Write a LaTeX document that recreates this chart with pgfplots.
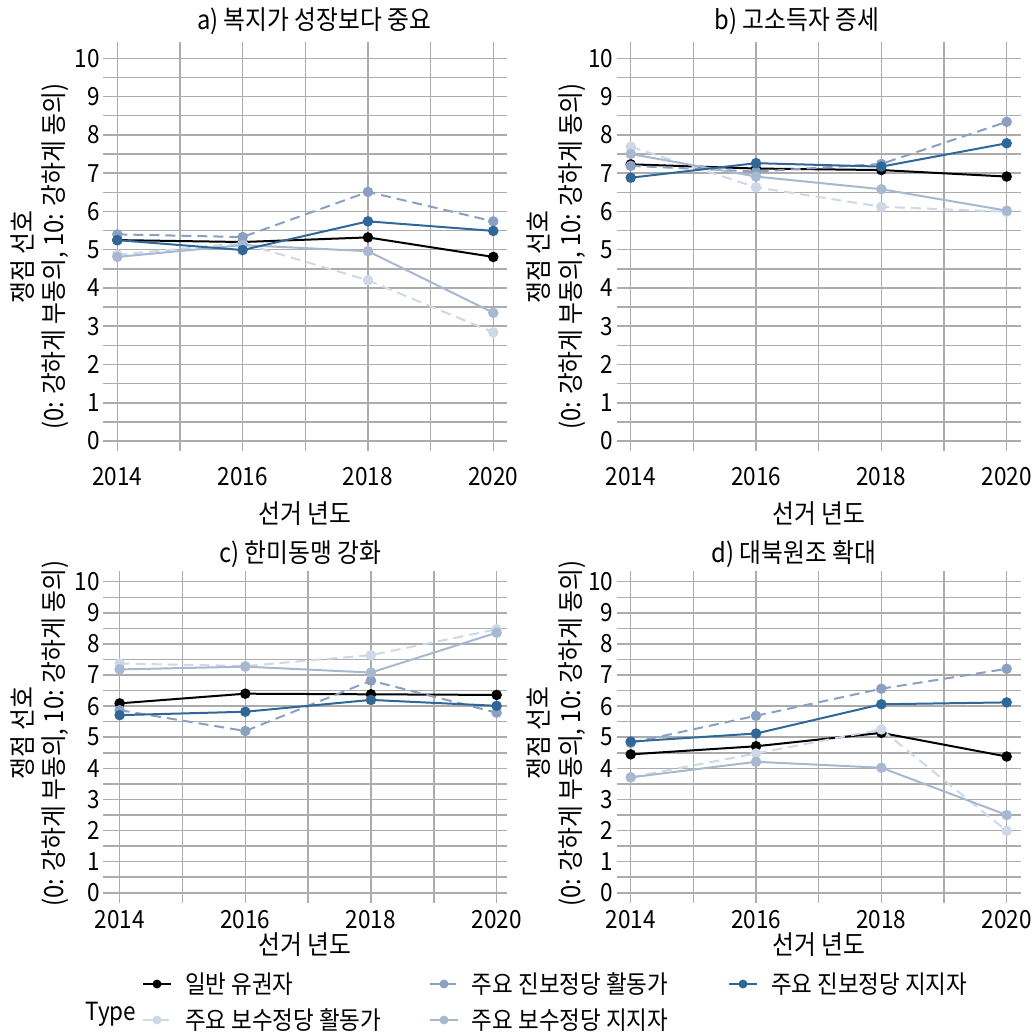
\documentclass[border=0pt]{standalone}
\usepackage{fontspec}
\setmainfont{Noto Sans CJK KR}[FakeStretch=0.9]
\usepackage{pgfplots}
\pgfplotsset{compat=1.18}

\definecolor{cgen}{RGB}{0,0,0}
\definecolor{cpsup}{RGB}{47,104,152}
\definecolor{cpact}{RGB}{139,160,192}
\definecolor{ccsup}{RGB}{168,184,208}
\definecolor{ccact}{RGB}{205,216,232}
\definecolor{gridc}{RGB}{172,172,172}
\newcommand\fsz{\fontsize{12.5}{15}\selectfont}
\newcommand\fszl{\fontsize{13.2}{15.6}\selectfont}

\pgfplotsset{
 sbase/.style={line width=1pt, mark=*, mark size=2.1pt, mark options={solid}},
 sgen/.style={sbase, color=cgen, solid},
 scact/.style={sbase, color=ccact, dash pattern=on 5pt off 3pt},
 spact/.style={sbase, color=cpact, dash pattern=on 5pt off 3pt},
 scsup/.style={sbase, color=ccsup, solid},
 spsup/.style={sbase, color=cpsup, solid},
 panel/.style={
  scale only axis, width=202pt,
  xmin=2013.776, xmax=2020.224,
  xtick={2014,2016,2018,2020}, xticklabels={2014,2016,2018,2020},
  minor xtick={2015,2017,2019},
  ytick={0,1,2,3,4,5,6,7,8,9,10},
  minor ytick={0.5,1.5,2.5,3.5,4.5,5.5,6.5,7.5,8.5,9.5},
  grid=both,
  major grid style={draw=gridc, line width=0.75pt},
  minor grid style={draw=gridc, line width=0.75pt},
  axis line style={draw=none},
  major tick length=0pt, minor tick length=0pt,
  /pgf/number format/assume math mode=true,
  tick label style={font=\fsz, inner sep=0pt},
  xticklabel style={anchor=north},
  yticklabel style={anchor=east, xshift=-1.6pt},
  title style={font=\fszl, anchor=base, inner sep=0pt},
  xlabel={선거 년도},
  xlabel style={font=\fszl, at={(axis description cs:0.5,0)}, anchor=base, inner sep=0pt},
  ylabel={쟁점 선호\\(0: 강하게 부동의, 10: 강하게 동의)},
  ylabel style={font=\fszl, align=center, anchor=center, inner sep=0pt},
 },
 toppanel/.style={panel, height=204.5pt, ymin=-0.253, ymax=10.434,
  xticklabel style={yshift=-8pt}, xlabel style={yshift=-36.6pt}},
 botpanel/.style={panel, height=166pt, ymin=-0.32, ymax=10.354,
  xticklabel style={yshift=-3.7pt}, xlabel style={yshift=-26pt}},
}

\begin{document}
\begin{tikzpicture}
\useasboundingbox (0,0) rectangle (516.5pt,-516.5pt);

% a)
\begin{axis}[toppanel, at={(51.65pt,-225.35pt)}, anchor=south west,
  title={a) 복지가 성장보다 중요},
  title style={at={(axis description cs:0.522,1)}, yshift=0pt},
  ylabel style={at={(axis description cs:-0.158,0.474)}}]
\addplot[sgen]  coordinates {(2014,5.25) (2016,5.20) (2018,5.32) (2020,4.81)};
\addplot[scact] coordinates {(2014,4.87) (2016,5.17) (2018,4.20) (2020,2.84)};
\addplot[spact] coordinates {(2014,5.40) (2016,5.33) (2018,6.51) (2020,5.74)};
\addplot[scsup] coordinates {(2014,4.81) (2016,5.12) (2018,4.96) (2020,3.35)};
\addplot[spsup] coordinates {(2014,5.25) (2016,4.99) (2018,5.74) (2020,5.49)};
\end{axis}

% b)
\begin{axis}[toppanel, at={(308.35pt,-225.35pt)}, anchor=south west,
  title={b) 고소득자 증세},
  title style={at={(axis description cs:0.446,1)}, yshift=0pt},
  ylabel style={at={(axis description cs:-0.150,0.474)}}]
\addplot[sgen]  coordinates {(2014,7.23) (2016,7.12) (2018,7.08) (2020,6.91)};
\addplot[scact] coordinates {(2014,7.69) (2016,6.63) (2018,6.12) (2020,5.99)};
\addplot[spact] coordinates {(2014,7.19) (2016,7.04) (2018,7.24) (2020,8.34)};
\addplot[scsup] coordinates {(2014,7.50) (2016,6.91) (2018,6.58) (2020,6.02)};
\addplot[spsup] coordinates {(2014,6.88) (2016,7.26) (2018,7.17) (2020,7.78)};
\end{axis}

% c)
\begin{axis}[botpanel, at={(51.65pt,-451.35pt)}, anchor=south west,
  xmin=2013.74, xmax=2020.17,
  title={c) 한미동맹 강화},
  title style={at={(axis description cs:0.487,1)}, yshift=-1.7pt},
  ylabel style={at={(axis description cs:-0.158,0.51)}},
  legend columns=3,
  legend image code/.code={\draw[mark repeat=2,mark phase=2,mark size=1.7pt] plot coordinates {(0pt,0pt) (7pt,0pt) (14pt,0pt)};},
  legend style={draw=none, fill=none, inner sep=0pt, outer sep=0pt,
    at={(axis description cs:0.0958,-0.2057)}, anchor=north west,
    column sep=0pt, row sep=5pt,
    nodes={inner sep=0pt, text height=11pt, text depth=2pt, font=\fsz},
    cells={anchor=west},
    /tikz/every odd column/.append style={column sep=6.5pt}}]
\addplot[sgen, forget plot]  coordinates {(2014,6.09) (2016,6.40) (2018,6.38) (2020,6.36)};
\addplot[scact, forget plot] coordinates {(2014,7.37) (2016,7.29) (2018,7.64) (2020,8.47)};
\addplot[spact, forget plot] coordinates {(2014,5.87) (2016,5.20) (2018,6.82) (2020,5.79)};
\addplot[scsup, forget plot] coordinates {(2014,7.18) (2016,7.27) (2018,7.08) (2020,8.36)};
\addplot[spsup, forget plot] coordinates {(2014,5.71) (2016,5.82) (2018,6.20) (2020,6.01)};
\addlegendimage{sgen}
\addlegendentry{\makebox[122pt][l]{일반 유권자}}
\addlegendimage{spact}
\addlegendentry{\makebox[128pt][l]{주요 진보정당 활동가}}
\addlegendimage{spsup}
\addlegendentry{주요 진보정당 지지자}
\addlegendimage{scact}
\addlegendentry{\makebox[122pt][l]{주요 보수정당 활동가}}
\addlegendimage{scsup}
\addlegendentry{\makebox[128pt][l]{주요 보수정당 지지자}}
\end{axis}

% d)
\begin{axis}[botpanel, at={(308.35pt,-451.35pt)}, anchor=south west,
  title={d) 대북원조 확대},
  title style={at={(axis description cs:0.439,1)}, yshift=-1.7pt},
  ylabel style={at={(axis description cs:-0.150,0.51)}}]
\addplot[sgen]  coordinates {(2014,4.45) (2016,4.71) (2018,5.14) (2020,4.38)};
\addplot[scact] coordinates {(2014,3.71) (2016,4.48) (2018,5.25) (2020,1.99)};
\addplot[spact] coordinates {(2014,4.82) (2016,5.69) (2018,6.56) (2020,7.20)};
\addplot[scsup] coordinates {(2014,3.71) (2016,4.21) (2018,4.02) (2020,2.50)};
\addplot[spsup] coordinates {(2014,4.86) (2016,5.12) (2018,6.06) (2020,6.12)};
\end{axis}

\node[font=\fsz, anchor=base west, inner sep=0pt] at (42.5pt,-510pt) {Type};
\end{tikzpicture}
\end{document}
